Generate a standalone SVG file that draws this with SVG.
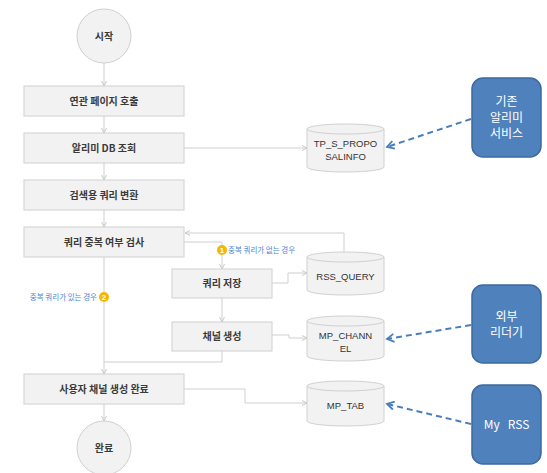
<svg xmlns="http://www.w3.org/2000/svg" width="547" height="473" viewBox="0 0 547 473">
<defs>
<style>
.box{fill:#f2f2f2;stroke:#d0d0d0;stroke-width:1}
.t{font-family:"Noto Sans CJK KR","Liberation Sans",sans-serif;font-size:10px;fill:#3a3a3a;text-anchor:middle;font-weight:bold}
.ct{font-family:"Liberation Sans","Noto Sans CJK KR",sans-serif;font-size:9.5px;fill:#333;text-anchor:middle}
.ln{fill:none;stroke:#cfcfcf;stroke-width:1}
.ds{fill:none;stroke:#4a7ebb;stroke-width:2;stroke-dasharray:6,4}
.bb{fill:#4f81bd;stroke:#3d6a9e;stroke-width:1.5}
.bt{font-family:"Noto Sans CJK KR","Liberation Sans",sans-serif;font-size:12px;fill:#fff;text-anchor:middle}
.lb{font-family:"Noto Sans CJK KR","Liberation Sans",sans-serif;font-size:7.5px;fill:#4a86d8}
.bd{fill:#f5b800}
.bdt{font-family:"Liberation Sans",sans-serif;font-size:8px;fill:#fff;text-anchor:middle;font-weight:bold}
</style>
<marker id="ar" markerWidth="6" markerHeight="6" refX="5" refY="3" orient="auto" markerUnits="userSpaceOnUse">
<path d="M0,0.5 L5,3 L0,5.5" fill="none" stroke="#c8c8c8" stroke-width="1"/>
</marker>
<marker id="ba" markerWidth="10" markerHeight="10" refX="8" refY="5" orient="auto" markerUnits="userSpaceOnUse">
<path d="M1,1 L8,5 L1,9" fill="none" stroke="#4a7ebb" stroke-width="1.8"/>
</marker>
</defs>
<rect width="547" height="473" fill="#fff"/>

<g id="connectors">
<path class="ln" d="M104,63 V86" marker-end="url(#ar)"/>
<path class="ln" d="M104,116 V133" marker-end="url(#ar)"/>
<path class="ln" d="M104,163 V180" marker-end="url(#ar)"/>
<path class="ln" d="M104,210 V227" marker-end="url(#ar)"/>
<path class="ln" d="M184,148 H307" marker-end="url(#ar)"/>
<path class="ln" d="M184,242 H222 V269" marker-end="url(#ar)"/>
<path class="ln" d="M344,252 V233 H185" marker-end="url(#ar)"/>
<path class="ln" d="M272,283 H288 V273 H307" marker-end="url(#ar)"/>
<path class="ln" d="M222,298 V322" marker-end="url(#ar)"/>
<path class="ln" d="M272,335 H289 V338 H307" marker-end="url(#ar)"/>
<path class="ln" d="M222,351 V362 H104"/>
<path class="ln" d="M104,257 V374" marker-end="url(#ar)"/>
<path class="ln" d="M184,389 H245 V403 H307" marker-end="url(#ar)"/>
<path class="ln" d="M104,404 V421" marker-end="url(#ar)"/>
<path class="ds" d="M471,119 L387,147" marker-end="url(#ba)"/>
<path class="ds" d="M471,325 L387,339" marker-end="url(#ba)"/>
<path class="ds" d="M471,424 L387,404" marker-end="url(#ba)"/>
</g>

<g id="start"><circle cx="104" cy="36" r="27" class="box"/><text class="t" x="104" y="40">시작</text></g>
<g id="n1"><rect class="box" x="24" y="86" width="160" height="30"/><text class="t" x="104" y="105">연관 페이지 호출</text></g>
<g id="n2"><rect class="box" x="24" y="133" width="160" height="30"/><text class="t" x="104" y="152">알리미 DB 조회</text></g>
<g id="n3"><rect class="box" x="24" y="180" width="160" height="30"/><text class="t" x="104" y="199">검색용 쿼리 변환</text></g>
<g id="n4"><rect class="box" x="24" y="227" width="160" height="30"/><text class="t" x="104" y="246">쿼리 중복 여부 검사</text></g>
<g id="n5"><rect class="box" x="172" y="269" width="100" height="29"/><text class="t" x="222" y="287">쿼리 저장</text></g>
<g id="n6"><rect class="box" x="172" y="322" width="100" height="29"/><text class="t" x="222" y="340">채널 생성</text></g>
<g id="n7"><rect class="box" x="24" y="374" width="160" height="30"/><text class="t" x="104" y="393">사용자 채널 생성 완료</text></g>
<g id="end"><circle cx="104" cy="448" r="27" class="box"/><text class="t" x="104" y="452">완료</text></g>

<g id="db1"><path class="box" d="M307,129 V167 A38.5,5 0 0 0 384,167 V129"/><ellipse class="box" cx="345.5" cy="129" rx="38.5" ry="5"/><text class="ct" x="345.5" y="147">TP_S_PROPO</text><text class="ct" x="345.5" y="160">SALINFO</text></g>
<g id="db2"><path class="box" d="M307,257 V290 A38.5,5 0 0 0 384,290 V257"/><ellipse class="box" cx="345.5" cy="257" rx="38.5" ry="5"/><text class="ct" x="345.5" y="280">RSS_QUERY</text></g>
<g id="db3"><path class="box" d="M307,321 V356 A38.5,5 0 0 0 384,356 V321"/><ellipse class="box" cx="345.5" cy="321" rx="38.5" ry="5"/><text class="ct" x="345.5" y="339">MP_CHANN</text><text class="ct" x="345.5" y="352">EL</text></g>
<g id="db4"><path class="box" d="M307,386 V421 A38.5,5 0 0 0 384,421 V386"/><ellipse class="box" cx="345.5" cy="386" rx="38.5" ry="5"/><text class="ct" x="345.5" y="409">MP_TAB</text></g>

<g id="ext1"><rect class="bb" x="472" y="78" width="69" height="79" rx="11"/><text class="bt" x="506.5" y="106">기존</text><text class="bt" x="506.5" y="122">알리미</text><text class="bt" x="506.5" y="138">서비스</text></g>
<g id="ext2"><rect class="bb" x="472" y="285" width="69" height="78" rx="11"/><text class="bt" x="506.5" y="321">외부</text><text class="bt" x="506.5" y="337">리더기</text></g>
<g id="ext3"><rect class="bb" x="472" y="385" width="69" height="79" rx="11"/><text class="bt" x="506.5" y="429" xml:space="preserve">My   RSS</text></g>

<g id="label1"><circle class="bd" cx="222" cy="250" r="5"/><text class="bdt" x="222" y="253">1</text><text class="lb" x="228" y="253">중복 쿼리가 없는 경우</text></g>
<g id="label2"><circle class="bd" cx="104" cy="297" r="5"/><text class="bdt" x="104" y="300">2</text><text class="lb" x="97" y="300" text-anchor="end">중복 쿼리가 있는 경우</text></g>
</svg>
